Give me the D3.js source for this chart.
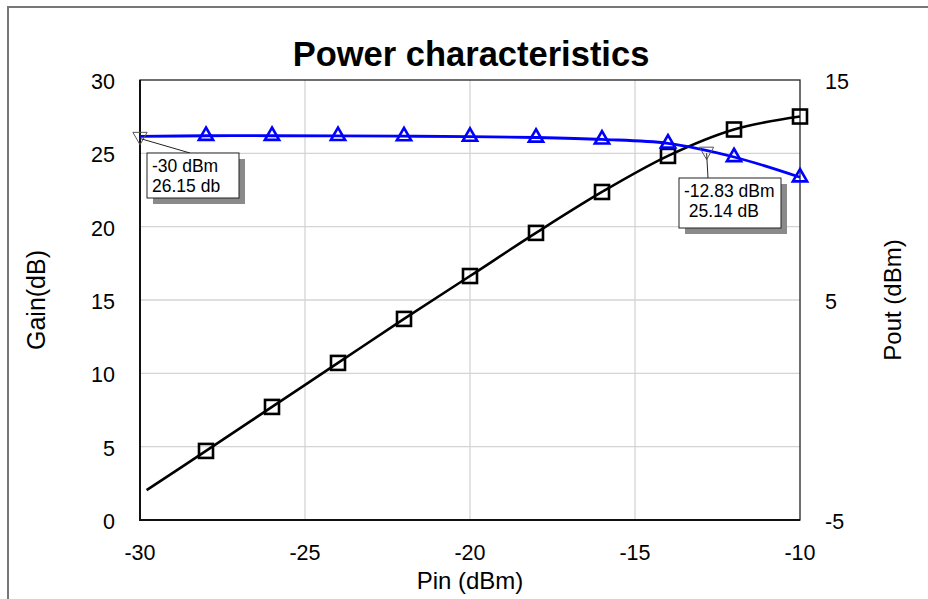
<!DOCTYPE html>
<html>
<head>
<meta charset="utf-8">
<script src="https://cdn.jsdelivr.net/npm/d3@7"></script>
<style>
  body { margin: 0; background: #fff; }
  svg { display: block; font-family: "Liberation Sans", Arial, sans-serif; }
</style>
</head>
<body>
<div id="chart"></div>
<script>
// Input power (dBm) where markers sit
const pin = [-28, -26, -24, -22, -20, -18, -16, -14, -12, -10];
// Gain curve (left axis), first point at -30 dBm
const gainPin = [-30, -28, -26, -24, -22, -20, -18, -16, -14, -12, -10];
const gain = [26.15, 26.2, 26.2, 26.19, 26.17, 26.14, 26.08, 25.95, 25.68, 24.75, 23.37];
// Output power curve (right axis)
const poutPin = [-29.8, -28, -26, -24, -22, -20, -18, -16, -14, -12, -10];
const pout = [-3.64, -1.86, 0.14, 2.14, 4.14, 6.09, 8.05, 9.91, 11.55, 12.75, 13.34];

const xTicks = [-30, -25, -20, -15, -10];
const leftTicks = [0, 5, 10, 15, 20, 25, 30];
const rightTicks = [-5, 5, 15];

// marker readouts
const markers = [
  { pin: -30, gain: 26.15, lines: ["-30 dBm", "26.15 db"] },
  { pin: -12.83, gain: 25.14, lines: ["-12.83 dBm", " 25.14 dB"] }
];

const W = 928, H = 599;
const m = { left: 140, right: 128, top: 80, bottom: 79 };

const svg = d3.select("#chart").append("svg")
  .attr("width", W).attr("height", H);

// outer frame
svg.append("path")
  .attr("d", `M8,${H + 5}V7H${W + 5}`)
  .attr("fill", "none")
  .attr("stroke", "#777")
  .attr("stroke-width", 2);

const x = d3.scaleLinear().domain([-30, -10]).range([m.left, W - m.right]);
const yL = d3.scaleLinear().domain([0, 30]).range([H - m.bottom, m.top]);
const yR = d3.scaleLinear().domain([-5, 15]).range([H - m.bottom, m.top]);

// grid
svg.append("g").selectAll("line.h")
  .data(leftTicks.filter(d => d > 0 && d < 30))
  .enter().append("line")
  .attr("x1", x(-30)).attr("x2", x(-10))
  .attr("y1", d => yL(d)).attr("y2", d => yL(d))
  .attr("stroke", "#d4d4d4").attr("stroke-width", 1.3);
svg.append("g").selectAll("line.v")
  .data(xTicks.filter(d => d > -30 && d < -10))
  .enter().append("line")
  .attr("y1", yL(0)).attr("y2", yL(30))
  .attr("x1", d => x(d)).attr("x2", d => x(d))
  .attr("stroke", "#d4d4d4").attr("stroke-width", 1.3);

// plot border
svg.append("rect")
  .attr("x", x(-30)).attr("y", yL(30))
  .attr("width", x(-10) - x(-30)).attr("height", yL(0) - yL(30))
  .attr("fill", "none").attr("stroke", "#222").attr("stroke-width", 1.3);
svg.append("path")
  .attr("d", `M${x(-30)},${yL(30)}V${yL(0)}H${x(-10)}`)
  .attr("fill", "none").attr("stroke", "#111").attr("stroke-width", 2);

// tick labels
const tickSize = 21.5;
svg.append("g").selectAll("text")
  .data(leftTicks).enter().append("text")
  .attr("x", 115).attr("y", d => yL(d) + 9)
  .attr("text-anchor", "end").attr("font-size", tickSize)
  .text(d => d);
svg.append("g").selectAll("text")
  .data(rightTicks).enter().append("text")
  .attr("x", 825).attr("y", d => yR(d) + 9)
  .attr("text-anchor", "start").attr("font-size", tickSize)
  .text(d => d);
svg.append("g").selectAll("text")
  .data(xTicks).enter().append("text")
  .attr("x", d => x(d)).attr("y", 560)
  .attr("text-anchor", "middle").attr("font-size", tickSize)
  .text(d => d);

// titles
svg.append("text")
  .attr("x", 471).attr("y", 66)
  .attr("text-anchor", "middle")
  .attr("font-size", 34.5).attr("font-weight", "bold")
  .text("Power characteristics");
svg.append("text")
  .attr("x", 470).attr("y", 589)
  .attr("text-anchor", "middle").attr("font-size", 24)
  .text("Pin (dBm)");
svg.append("text")
  .attr("transform", "translate(45,300) rotate(-90)")
  .attr("text-anchor", "middle").attr("font-size", 25)
  .text("Gain(dB)");
svg.append("text")
  .attr("transform", "translate(901,300) rotate(-90)")
  .attr("text-anchor", "middle").attr("font-size", 24)
  .text("Pout (dBm)");

// curves
const gainLine = d3.line()
  .x((d, i) => x(gainPin[i]))
  .y(d => yL(d))
  .curve(d3.curveCatmullRom);
const poutLine = d3.line()
  .x((d, i) => x(poutPin[i]))
  .y(d => yR(d))
  .curve(d3.curveCatmullRom);

svg.append("path").datum(pout)
  .attr("d", poutLine)
  .attr("fill", "none").attr("stroke", "#000").attr("stroke-width", 2.6);
svg.append("path").datum(gain)
  .attr("d", gainLine)
  .attr("fill", "none").attr("stroke", "#0000ff").attr("stroke-width", 2.8);

// square markers (Pout)
svg.append("g").selectAll("rect")
  .data(pin).enter().append("rect")
  .attr("x", d => x(d) - 7)
  .attr("y", d => yR(pout[poutPin.indexOf(d)]) - 7)
  .attr("width", 14).attr("height", 14)
  .attr("fill", "none").attr("stroke", "#000").attr("stroke-width", 2.6);

// triangle markers (Gain)
const tri = d3.symbol().type(d3.symbolTriangle).size(88);
svg.append("g").selectAll("path")
  .data(pin).enter().append("path")
  .attr("d", tri)
  .attr("transform", d => `translate(${x(d)},${yL(gain[gainPin.indexOf(d)])})`)
  .attr("fill", "none").attr("stroke", "#0000ff").attr("stroke-width", 2.6);

// marker readouts
const boxes = [
  { bx: 147, by: 153, w: 92, h: 45, lx: 190, ly: 153, tx: 152 },
  { bx: 679, by: 178, w: 102, h: 50, lx: 708, ly: 178, tx: 684 }
];
markers.forEach((mk, i) => {
  const b = boxes[i];
  const px = x(mk.pin), py = yL(mk.gain);
  svg.append("path")
    .attr("d", tri)
    .attr("transform", `translate(${px},${py}) rotate(180)`)
    .attr("fill", "none").attr("stroke", "#555").attr("stroke-width", 1);
  svg.append("line")
    .attr("x1", px).attr("y1", py + 2)
    .attr("x2", b.lx).attr("y2", b.ly)
    .attr("stroke", "#222").attr("stroke-width", 1);
  svg.append("rect")
    .attr("x", b.bx + 6).attr("y", b.by + 6)
    .attr("width", b.w).attr("height", b.h)
    .attr("fill", "#8a8a8a");
  svg.append("rect")
    .attr("x", b.bx).attr("y", b.by)
    .attr("width", b.w).attr("height", b.h)
    .attr("fill", "#fff").attr("stroke", "#222").attr("stroke-width", 1);
  mk.lines.forEach((t, j) => {
    svg.append("text")
      .attr("x", b.tx).attr("y", b.by + 19 + j * 20)
      .attr("font-size", 17.5)
      .style("white-space", "pre")
      .text(t);
  });
});
</script>
</body>
</html>
